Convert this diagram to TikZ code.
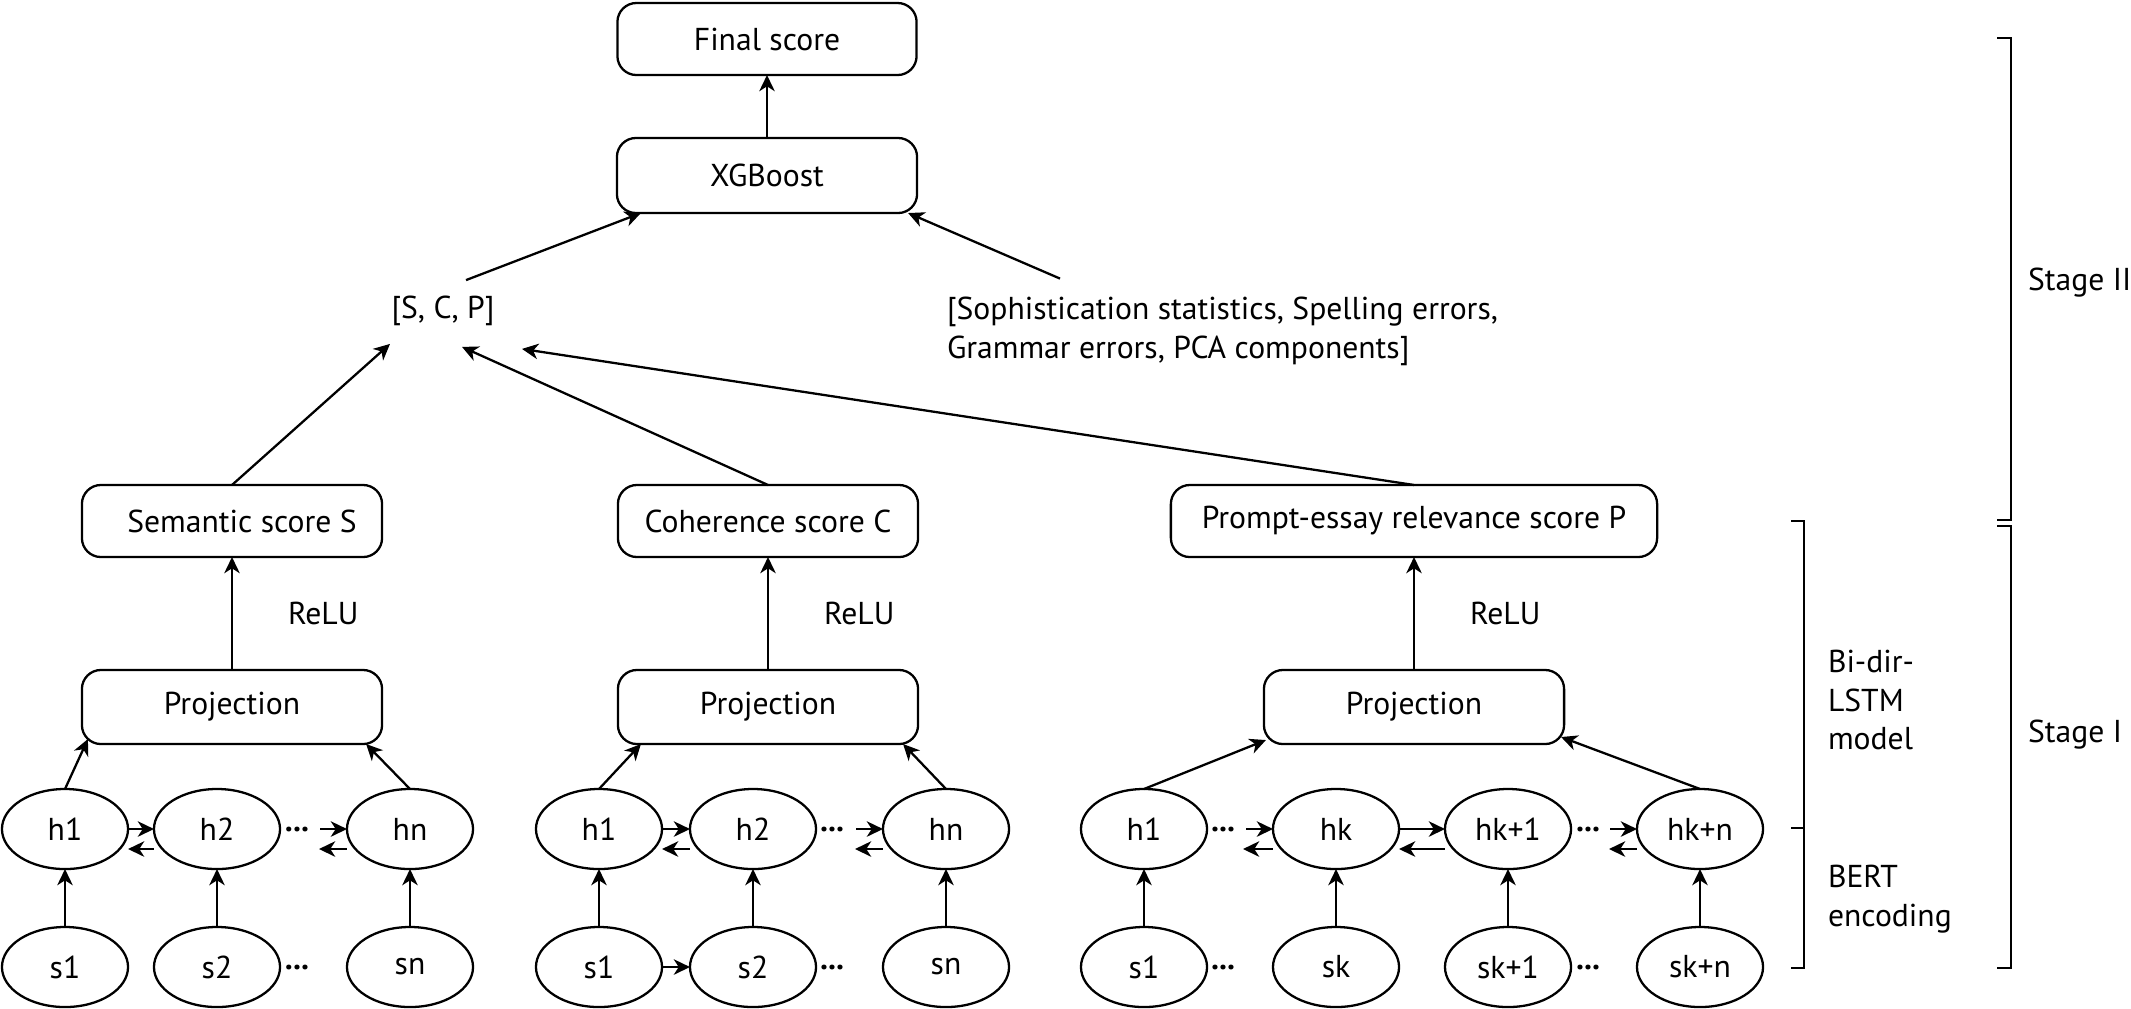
\documentclass[tikz,border=0pt]{standalone}
\usepackage{fontspec}
\setmainfont{PT Sans}
\usetikzlibrary{arrows.meta,calc,shapes.geometric}
\begin{document}
\begin{tikzpicture}[x=0.01cm,y=-0.01cm,
  every node/.style={font=\fontsize{9}{11}\selectfont, inner sep=0pt, outer sep=0pt},
  box/.style={draw, rounded corners=0.19cm, line width=0.65pt, minimum height=0.72cm, minimum width=3cm},
  ell/.style={draw, ellipse, line width=0.65pt, minimum width=1.26cm, minimum height=0.80cm},
  arr/.style={line width=0.65pt, -{Stealth[length=4.6pt,width=4.4pt,inset=1.4pt]}},
  brk/.style={line width=0.65pt},
  dotsn/.style={font=\fontsize{9}{11}\selectfont\bfseries},
  lbl/.style={align=left, anchor=west, font=\fontsize{9}{10.9}\selectfont}
]
\useasboundingbox (0,0) rectangle (2131,1008);

% top boxes
\node[box, minimum width=2.99cm] (final) at (767,39) {Final score};
\node[box, minimum height=0.75cm] (xgb) at (767,175.5) {XGBoost};
\node (scp) at (443,311) {[S, C, P]};
\node[lbl, font=\fontsize{9}{11.1}\selectfont] (feat) at (947,331) {[Sophistication statistics, Spelling errors,\\Grammar errors, PCA components]};

% score boxes
\node[box] (sem) at (232,521) {\hspace*{0.2cm}Semantic score S};
\node[box] (coh) at (768,521) {Coherence score C};
\node[box, minimum width=4.86cm] (pro) at (1414,521) {Prompt-essay relevance score P};

% projection boxes
\node[box, minimum height=0.74cm] (proja) at (232,707) {Projection};
\node[box, minimum height=0.74cm] (projb) at (768,707) {Projection};
\node[box, minimum height=0.74cm] (projc) at (1414,707) {Projection};

% group a
\node[ell] (ha1) at (65,829) {h1};
\node[ell] (ha2) at (217,829) {h2};
\node[dotsn] (hadots) at (297,833) {···};
\node[ell] (han) at (410,829) {hn};
\node[ell] (sa1) at (65,967) {s1};
\node[ell] (sa2) at (217,967) {s2};
\node[dotsn] (sadots) at (297,971) {···};
\node[ell] (san) at (410,967) {sn};

% group b
\node[ell] (hb1) at (599,829) {h1};
\node[ell] (hb2) at (753,829) {h2};
\node[dotsn] (hbdots) at (832,833) {···};
\node[ell] (hbn) at (946,829) {hn};
\node[ell] (sb1) at (599,967) {s1};
\node[ell] (sb2) at (753,967) {s2};
\node[dotsn] (sbdots) at (832,971) {···};
\node[ell] (sbn) at (946,967) {sn};

% group c
\node[ell] (hc1) at (1144,829) {h1};
\node[dotsn] (hcdotsa) at (1223,833) {···};
\node[ell] (hck) at (1336,829) {hk};
\node[ell] (hck1) at (1508,829) {hk+1};
\node[dotsn] (hcdotsb) at (1588,833) {···};
\node[ell] (hckn) at (1700,829) {hk+n};
\node[ell] (sc1) at (1144,967) {s1};
\node[dotsn] (scdotsa) at (1223,971) {···};
\node[ell] (sck) at (1336,967) {sk};
\node[ell] (sck1) at (1508,967) {sk+1};
\node[dotsn] (scdotsb) at (1588,971) {···};
\node[ell] (sckn) at (1700,967) {sk+n};

% side labels
\node[lbl] (bilstm) at (1828,700) {Bi-dir-\\LSTM\\model};
\node[lbl] (bert) at (1828,899) {BERT\\encoding};
\node[anchor=west] (st2) at (2028,283) {Stage II};
\node[anchor=west] (st1) at (2028,735) {Stage I};

% connectors: top
\draw[arr] (xgb.north) -- (final.south);
\draw[arr] ($(scp.north)+(23,-16)$) -- ($(xgb.south west)+(24,0)$);
\draw[arr] ($(feat.north west)+(113,-18)$) -- ($(xgb.south east)+(-9,0)$);
\draw[arr] (sem.north) -- ($(scp.south)+(-53,18)$);
\draw[arr] (coh.north) -- ($(scp.south)+(19,21)$);
\draw[arr] (pro.north) -- ($(scp.south)+(79,23)$);

% ReLU
\draw[arr] (proja.north) -- node[midway, right=0.56cm] (relua) {ReLU} (sem.south);
\draw[arr] (projb.north) -- node[midway, right=0.56cm] (relub) {ReLU} (coh.south);
\draw[arr] (projc.north) -- node[midway, right=0.56cm] (reluc) {ReLU} (pro.south);

% h -> projection
\draw[arr] (ha1.north) -- ($(proja.south west)+(6,-5)$);
\draw[arr] (han.north) -- ($(proja.south east)+(-16,0)$);
\draw[arr] (hb1.north) -- ($(projb.south west)+(23,0)$);
\draw[arr] (hbn.north) -- ($(projb.south east)+(-15,0)$);
\draw[arr] (hc1.north) -- ($(projc.south west)+(2,-4)$);
\draw[arr] (hckn.north) -- ($(projc.south east)+(-3,-7)$);

% s -> h
\foreach \s/\h in {sa1/ha1, sa2/ha2, san/han, sb1/hb1, sb2/hb2, sbn/hbn, sc1/hc1, sck/hck, sck1/hck1, sckn/hckn}
  \draw[arr] (\s.north) -- (\h.south);

% horizontal bi-directional arrows
\coordinate (ca) at (320,829);
\coordinate (cab) at (319,849);
\coordinate (cb) at (856,829);
\coordinate (cbb) at (855,849);
\coordinate (cc) at (1246,829);
\coordinate (ccb) at (1243,849);
\coordinate (cd) at (1610,829);
\coordinate (cdb) at (1609,849);

\draw[arr] (ha1.east) -- (ha2.west);
\draw[arr] ($(ha2.west)+(0,20)$) -- ($(ha1.east)+(0,20)$);
\draw[arr] (ca) -- (han.west);
\draw[arr] ($(han.west)+(0,20)$) -- (cab);

\draw[arr] (hb1.east) -- (hb2.west);
\draw[arr] ($(hb2.west)+(0,20)$) -- ($(hb1.east)+(0,20)$);
\draw[arr] (cb) -- (hbn.west);
\draw[arr] ($(hbn.west)+(0,20)$) -- (cbb);
\draw[arr] (sb1.east) -- (sb2.west);

\draw[arr] (cc) -- (hck.west);
\draw[arr] ($(hck.west)+(0,20)$) -- (ccb);
\draw[arr] (hck.east) -- (hck1.west);
\draw[arr] ($(hck1.west)+(0,20)$) -- ($(hck.east)+(0,20)$);
\draw[arr] (cd) -- (hckn.west);
\draw[arr] ($(hckn.west)+(0,20)$) -- (cdb);

% brackets
\draw[brk] (1997,38) -- (2011,38) -- (2011,520) -- (1997,520);
\draw[brk] (1997,526) -- (2011,526) -- (2011,968) -- (1997,968);
\draw[brk] (1791,521) -- (1804,521) -- (1804,968) -- (1791,968);
\draw[brk] (1791,828) -- (1804,828);
\end{tikzpicture}
\end{document}
